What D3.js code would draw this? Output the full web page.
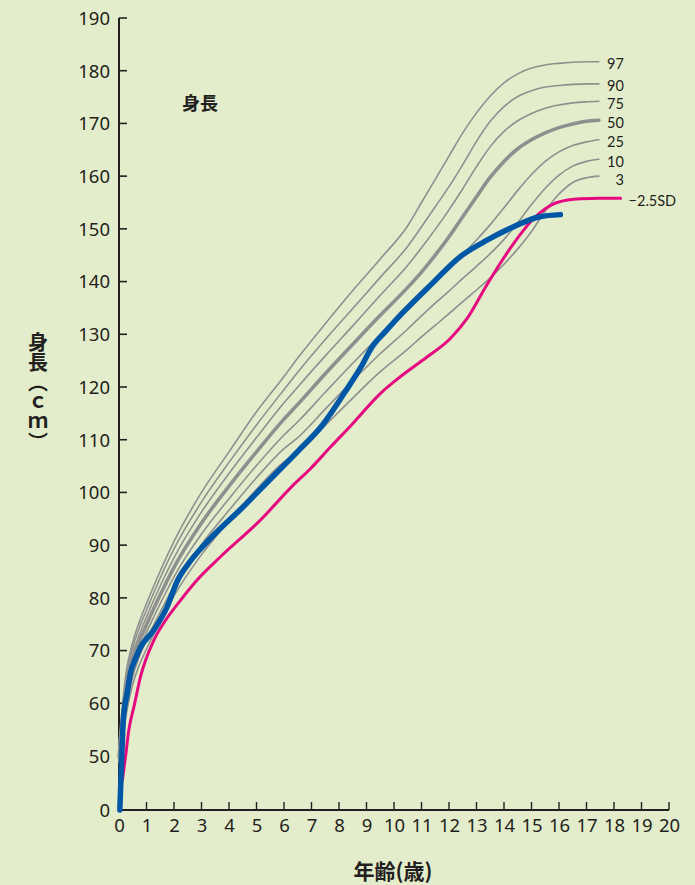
<!DOCTYPE html>
<html><head><meta charset="utf-8">
<script src="https://cdn.jsdelivr.net/npm/d3@7"></script>
<style>
html,body{margin:0;padding:0;background:#e4edcb;}
svg{display:block;}
text{font-family:"Noto Sans","Noto Sans CJK JP",sans-serif;fill:#231f20;}
</style></head>
<body>
<svg id="chart" width="695" height="885"></svg>
<script>
// ---- data ----
const ageTicks = d3.range(0, 21);
const heightTicks = [0, 50, 60, 70, 80, 90, 100, 110, 120, 130, 140, 150, 160, 170, 180, 190];
const pctAges = [0, 0.25, 0.5, 0.75, 1, 1.5, 2, 3, 4, 5, 6, 6.5, 7.5, 8.5, 9.5, 10.5, 11, 11.5, 12, 12.5, 13, 13.5, 14, 14.5, 15, 15.5, 16, 16.5, 17, 17.45];
const p97 = [52.6, 65.5, 71.6, 75.6, 78.9, 85.1, 90.7, 100.0, 107.7, 115.3, 122.0, 125.5, 132.0, 138.3, 144.3, 150.6, 155.0, 159.4, 163.8, 168.2, 172.0, 175.2, 177.7, 179.4, 180.5, 181.1, 181.4, 181.6, 181.7, 181.7];
const p90 = [51.6, 64.4, 70.5, 74.5, 77.7, 83.8, 89.3, 98.2, 105.7, 112.8, 119.5, 122.8, 129.0, 134.9, 140.8, 146.7, 150.4, 154.2, 158.0, 162.2, 166.6, 170.4, 173.2, 175.1, 176.2, 176.9, 177.2, 177.4, 177.5, 177.5];
const p75 = [50.5, 63.2, 69.3, 73.2, 76.4, 82.3, 87.6, 96.3, 103.6, 110.4, 117.0, 120.0, 125.9, 131.6, 137.4, 143.1, 146.4, 149.9, 153.6, 157.6, 161.8, 165.6, 168.5, 170.5, 171.9, 172.9, 173.5, 173.9, 174.1, 174.2];
const p50 = [49.0, 61.9, 67.9, 71.8, 74.9, 80.6, 85.8, 94.2, 101.2, 107.7, 113.9, 116.7, 122.5, 128.1, 133.6, 138.9, 141.8, 145.0, 148.5, 152.3, 156.1, 159.8, 162.8, 165.2, 166.9, 168.2, 169.2, 169.9, 170.4, 170.6];
const p25 = [47.4, 60.4, 66.4, 70.4, 73.4, 78.9, 84.0, 92.1, 98.8, 105.1, 110.9, 113.4, 119.0, 124.5, 129.8, 134.7, 137.3, 139.9, 142.6, 145.2, 147.9, 150.8, 154.0, 157.3, 160.3, 162.8, 164.6, 165.8, 166.5, 166.9];
const p10 = [46.0, 59.0, 65.1, 69.0, 72.0, 77.3, 82.2, 90.1, 96.6, 102.8, 108.3, 110.4, 115.8, 121.2, 126.3, 131.0, 133.5, 135.9, 138.2, 140.6, 142.9, 145.3, 148.0, 151.2, 154.6, 157.7, 160.2, 161.9, 162.8, 163.2];
const p3 = [44.0, 57.5, 63.6, 67.4, 70.3, 75.6, 80.4, 88.2, 94.6, 100.6, 105.8, 107.5, 112.7, 117.9, 122.9, 127.2, 129.5, 131.7, 133.9, 136.2, 138.4, 140.7, 143.3, 146.2, 149.5, 153.4, 156.6, 158.8, 159.7, 160.0];
const pctLabels = ["97", "90", "75", "50", "25", "10", "3"];
const sdAges = [0.12, 0.24, 0.36, 0.55, 0.78, 1.27, 1.7, 2.2, 2.84, 3.69, 5.15, 6.3, 6.96, 7.69, 8.42, 9.51, 10.24, 11.2, 12.05, 12.66, 13.39, 14.36, 14.96, 15.5, 15.93, 16.78, 17.5, 18.24];
const sdValues = [27, 50, 55, 59.5, 65, 72, 75.8, 79.3, 83.4, 87.8, 94.8, 101.2, 104.5, 108.6, 112.6, 118.8, 122.0, 125.7, 129.2, 133.0, 139.5, 147.3, 151.3, 153.8, 155.0, 155.7, 155.8, 155.8];
const sdLabel = "−2.5SD";
const childAges = [0.03, 0.1, 0.16, 0.3, 0.42, 0.6, 0.78, 1.27, 1.75, 2.12, 2.5, 3.0, 3.5, 4.5, 5.5, 6.5, 7.4, 8.2, 8.8, 9.2, 9.7, 10.3, 11.4, 12.4, 13.4, 14.35, 15.3, 16.05];
const childValues = [0, 50, 57, 62, 65.8, 68.5, 70.6, 73.9, 78.3, 83.2, 86.3, 89.5, 92.2, 97.2, 102.5, 107.8, 112.8, 118.9, 123.8, 127.6, 130.6, 134.0, 139.7, 144.7, 147.9, 150.4, 152.3, 152.7];

// ---- drawing ----
const svg = d3.select("#chart");
const x = d3.scaleLinear().domain([0, 20]).range([119, 669]);
const y = d3.scaleLinear().domain([0, 50, 190]).range([810, 756, 18]);
const ink = "#231f20";

const line = d3.line().x(d => x(d[0])).y(d => y(d[1])).curve(d3.curveMonotoneX);

// axes
const yAxis = d3.axisLeft(y).tickValues(heightTicks).tickSize(0).tickPadding(9);
const gy = svg.append("g").attr("transform", `translate(${x(0)},0)`).call(yAxis);
gy.select(".domain").remove();
gy.selectAll("text").style("font-size", "18.5px").attr("fill", ink).attr("dy", "0.34em");
svg.append("g").selectAll("line").data(heightTicks).join("line")
  .attr("x1", x(0)).attr("x2", x(0) + 8)
  .attr("y1", d => y(d)).attr("y2", d => y(d))
  .attr("stroke", ink).attr("stroke-width", 1.6);

const xAxis = d3.axisBottom(x).tickValues(ageTicks).tickSize(0).tickPadding(6);
const gx = svg.append("g").attr("transform", `translate(0,${y(0)})`).call(xAxis);
gx.select(".domain").remove();
gx.selectAll("text").style("font-size", "18.5px").attr("fill", ink).attr("dy", "0.85em");
svg.append("g").selectAll("line").data(ageTicks.slice(1)).join("line")
  .attr("x1", d => x(d)).attr("x2", d => x(d))
  .attr("y1", y(0)).attr("y2", y(0) - 8)
  .attr("stroke", ink).attr("stroke-width", 1.4);

// axis lines
svg.append("line").attr("x1", x(0)).attr("x2", x(0)).attr("y1", y(190)).attr("y2", y(0) + 1)
  .attr("stroke", ink).attr("stroke-width", 2);
svg.append("line").attr("x1", x(0) - 1).attr("x2", x(20)).attr("y1", y(0)).attr("y2", y(0))
  .attr("stroke", ink).attr("stroke-width", 2);

// percentile curves
const pctSeries = [p97, p90, p75, p50, p25, p10, p3];
const gray = "#8e8f8f";
let prevLabelY = -Infinity;
pctSeries.forEach((vals, i) => {
  const pts = pctAges.map((a, j) => [a, vals[j]]);
  svg.append("path").attr("d", line(pts)).attr("fill", "none")
    .attr("stroke", gray).attr("stroke-width", pctLabels[i] === "50" ? 3.6 : 1.6)
    .attr("stroke-linecap", "round");
  const last = pts[pts.length - 1];
  let ly = Math.max(y(last[1]) + 2, prevLabelY + 18);
  prevLabelY = ly;
  svg.append("text").attr("x", x(last[0]) + 25).attr("y", ly)
    .attr("text-anchor", "end").attr("dominant-baseline", "central")
    .style("font-family", "Lato,'Noto Sans',sans-serif")
    .style("font-size", "14.5px").text(pctLabels[i]);
});

// -2.5SD curve
const sdPts = sdAges.map((a, j) => [a, sdValues[j]]);
svg.append("path").attr("d", line(sdPts)).attr("fill", "none")
  .attr("stroke", "#e5097f").attr("stroke-width", 3).attr("stroke-linecap", "round");
const sdLast = sdPts[sdPts.length - 1];
svg.append("text").attr("x", x(sdLast[0]) + 8).attr("y", y(sdLast[1]) + 2)
  .attr("dominant-baseline", "central")
  .style("font-family", "Lato,'Noto Sans',sans-serif")
  .style("font-size", "14.5px").text(sdLabel);

// child curve
const childPts = childAges.map((a, j) => [a, childValues[j]]);
svg.append("path").attr("d", line(childPts)).attr("fill", "none")
  .attr("stroke", "#0057a6").attr("stroke-width", 5.5).attr("stroke-linecap", "round")
  .attr("stroke-linejoin", "round");

// titles
svg.append("text").attr("x", 200).attr("y", 102).attr("text-anchor", "middle")
  .attr("dominant-baseline", "central")
  .style("font-family", "'Noto Sans CJK JP',sans-serif").style("font-weight", "bold")
  .style("font-size", "18px").text("身長");

svg.append("text").attr("x", 393).attr("y", 870).attr("text-anchor", "middle")
  .attr("dominant-baseline", "central")
  .style("font-family", "'Noto Sans CJK JP',sans-serif").style("font-weight", "bold")
  .style("font-size", "21px").text("年齢(歳)");

svg.append("text").attr("x", 38).attr("y", 332)
  .style("writing-mode", "vertical-rl").style("text-orientation", "mixed")
  .style("font-family", "'Noto Sans CJK JP',sans-serif").style("font-weight", "bold")
  .style("font-size", "20px").text("身長（ｃｍ）");
</script>
</body></html>
